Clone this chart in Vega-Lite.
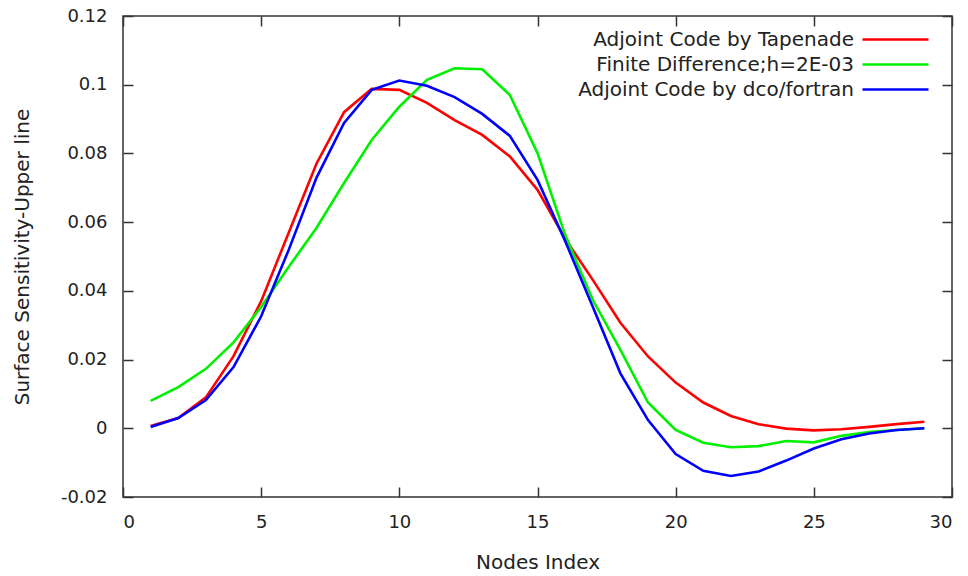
{
  "$schema": "https://vega.github.io/schema/vega-lite/v6.json",
  "width": 829,
  "height": 481,
  "autosize": {"type": "none"},
  "padding": {"left": 123, "top": 16, "right": 16, "bottom": 79},
  "background": "white",
  "config": {
    "font": "DejaVu Sans",
    "view": {"stroke": "#333333", "strokeWidth": 1.5},
    "axis": {
      "domain": false,
      "grid": false,
      "tickColor": "#333333",
      "tickWidth": 1.5,
      "tickSize": -10,
      "labelFont": "DejaVu Sans",
      "labelFontSize": 18,
      "labelColor": "#222222",
      "titleFont": "DejaVu Sans",
      "titleFontSize": 20,
      "titleFontWeight": "normal",
      "titleColor": "#222222"
    },
    "legend": {
      "labelFont": "DejaVu Sans",
      "labelFontSize": 20,
      "labelColor": "#222222",
      "labelLimit": 400
    }
  },
  "data": {
    "values": [
      {"idx": 1, "series": "Adjoint Code by Tapenade", "value": 0.0007},
      {"idx": 2, "series": "Adjoint Code by Tapenade", "value": 0.003},
      {"idx": 3, "series": "Adjoint Code by Tapenade", "value": 0.009},
      {"idx": 4, "series": "Adjoint Code by Tapenade", "value": 0.021},
      {"idx": 5, "series": "Adjoint Code by Tapenade", "value": 0.037},
      {"idx": 6, "series": "Adjoint Code by Tapenade", "value": 0.057},
      {"idx": 7, "series": "Adjoint Code by Tapenade", "value": 0.077},
      {"idx": 8, "series": "Adjoint Code by Tapenade", "value": 0.092},
      {"idx": 9, "series": "Adjoint Code by Tapenade", "value": 0.0988},
      {"idx": 10, "series": "Adjoint Code by Tapenade", "value": 0.0985},
      {"idx": 11, "series": "Adjoint Code by Tapenade", "value": 0.0947},
      {"idx": 12, "series": "Adjoint Code by Tapenade", "value": 0.0897},
      {"idx": 13, "series": "Adjoint Code by Tapenade", "value": 0.0854},
      {"idx": 14, "series": "Adjoint Code by Tapenade", "value": 0.0791},
      {"idx": 15, "series": "Adjoint Code by Tapenade", "value": 0.0694},
      {"idx": 16, "series": "Adjoint Code by Tapenade", "value": 0.0552},
      {"idx": 17, "series": "Adjoint Code by Tapenade", "value": 0.0432},
      {"idx": 18, "series": "Adjoint Code by Tapenade", "value": 0.0307},
      {"idx": 19, "series": "Adjoint Code by Tapenade", "value": 0.0209},
      {"idx": 20, "series": "Adjoint Code by Tapenade", "value": 0.0133},
      {"idx": 21, "series": "Adjoint Code by Tapenade", "value": 0.0075},
      {"idx": 22, "series": "Adjoint Code by Tapenade", "value": 0.0036},
      {"idx": 23, "series": "Adjoint Code by Tapenade", "value": 0.0012},
      {"idx": 24, "series": "Adjoint Code by Tapenade", "value": -0.0001},
      {"idx": 25, "series": "Adjoint Code by Tapenade", "value": -0.0006},
      {"idx": 26, "series": "Adjoint Code by Tapenade", "value": -0.0003},
      {"idx": 27, "series": "Adjoint Code by Tapenade", "value": 0.0004},
      {"idx": 28, "series": "Adjoint Code by Tapenade", "value": 0.0012},
      {"idx": 29, "series": "Adjoint Code by Tapenade", "value": 0.0019},
      {"idx": 1, "series": "Finite Difference;h=2E-03", "value": 0.008},
      {"idx": 2, "series": "Finite Difference;h=2E-03", "value": 0.012},
      {"idx": 3, "series": "Finite Difference;h=2E-03", "value": 0.0173},
      {"idx": 4, "series": "Finite Difference;h=2E-03", "value": 0.025},
      {"idx": 5, "series": "Finite Difference;h=2E-03", "value": 0.0353},
      {"idx": 6, "series": "Finite Difference;h=2E-03", "value": 0.047},
      {"idx": 7, "series": "Finite Difference;h=2E-03", "value": 0.0583},
      {"idx": 8, "series": "Finite Difference;h=2E-03", "value": 0.0714},
      {"idx": 9, "series": "Finite Difference;h=2E-03", "value": 0.0839},
      {"idx": 10, "series": "Finite Difference;h=2E-03", "value": 0.0936},
      {"idx": 11, "series": "Finite Difference;h=2E-03", "value": 0.1014},
      {"idx": 12, "series": "Finite Difference;h=2E-03", "value": 0.1048},
      {"idx": 13, "series": "Finite Difference;h=2E-03", "value": 0.1045},
      {"idx": 14, "series": "Finite Difference;h=2E-03", "value": 0.097},
      {"idx": 15, "series": "Finite Difference;h=2E-03", "value": 0.0801},
      {"idx": 16, "series": "Finite Difference;h=2E-03", "value": 0.0563},
      {"idx": 17, "series": "Finite Difference;h=2E-03", "value": 0.0374},
      {"idx": 18, "series": "Finite Difference;h=2E-03", "value": 0.0228},
      {"idx": 19, "series": "Finite Difference;h=2E-03", "value": 0.0075},
      {"idx": 20, "series": "Finite Difference;h=2E-03", "value": -0.0005},
      {"idx": 21, "series": "Finite Difference;h=2E-03", "value": -0.0042},
      {"idx": 22, "series": "Finite Difference;h=2E-03", "value": -0.0055},
      {"idx": 23, "series": "Finite Difference;h=2E-03", "value": -0.0052},
      {"idx": 24, "series": "Finite Difference;h=2E-03", "value": -0.0037},
      {"idx": 25, "series": "Finite Difference;h=2E-03", "value": -0.0041},
      {"idx": 26, "series": "Finite Difference;h=2E-03", "value": -0.0022},
      {"idx": 27, "series": "Finite Difference;h=2E-03", "value": -0.0011},
      {"idx": 28, "series": "Finite Difference;h=2E-03", "value": -0.0005},
      {"idx": 29, "series": "Finite Difference;h=2E-03", "value": 0.0},
      {"idx": 1, "series": "Adjoint Code by dco/fortran", "value": 0.0004},
      {"idx": 2, "series": "Adjoint Code by dco/fortran", "value": 0.003},
      {"idx": 3, "series": "Adjoint Code by dco/fortran", "value": 0.0082},
      {"idx": 4, "series": "Adjoint Code by dco/fortran", "value": 0.0178},
      {"idx": 5, "series": "Adjoint Code by dco/fortran", "value": 0.0326},
      {"idx": 6, "series": "Adjoint Code by dco/fortran", "value": 0.052},
      {"idx": 7, "series": "Adjoint Code by dco/fortran", "value": 0.0729},
      {"idx": 8, "series": "Adjoint Code by dco/fortran", "value": 0.0889},
      {"idx": 9, "series": "Adjoint Code by dco/fortran", "value": 0.0985},
      {"idx": 10, "series": "Adjoint Code by dco/fortran", "value": 0.1012},
      {"idx": 11, "series": "Adjoint Code by dco/fortran", "value": 0.0997},
      {"idx": 12, "series": "Adjoint Code by dco/fortran", "value": 0.0964},
      {"idx": 13, "series": "Adjoint Code by dco/fortran", "value": 0.0915},
      {"idx": 14, "series": "Adjoint Code by dco/fortran", "value": 0.0851},
      {"idx": 15, "series": "Adjoint Code by dco/fortran", "value": 0.0723},
      {"idx": 16, "series": "Adjoint Code by dco/fortran", "value": 0.0545},
      {"idx": 17, "series": "Adjoint Code by dco/fortran", "value": 0.0354},
      {"idx": 18, "series": "Adjoint Code by dco/fortran", "value": 0.016},
      {"idx": 19, "series": "Adjoint Code by dco/fortran", "value": 0.0024},
      {"idx": 20, "series": "Adjoint Code by dco/fortran", "value": -0.0075},
      {"idx": 21, "series": "Adjoint Code by dco/fortran", "value": -0.0124},
      {"idx": 22, "series": "Adjoint Code by dco/fortran", "value": -0.0139},
      {"idx": 23, "series": "Adjoint Code by dco/fortran", "value": -0.0126},
      {"idx": 24, "series": "Adjoint Code by dco/fortran", "value": -0.0094},
      {"idx": 25, "series": "Adjoint Code by dco/fortran", "value": -0.0059},
      {"idx": 26, "series": "Adjoint Code by dco/fortran", "value": -0.0032},
      {"idx": 27, "series": "Adjoint Code by dco/fortran", "value": -0.0015},
      {"idx": 28, "series": "Adjoint Code by dco/fortran", "value": -0.0005},
      {"idx": 29, "series": "Adjoint Code by dco/fortran", "value": 0.0}
    ]
  },
  "layer": [
    {
      "mark": {"type": "line", "strokeWidth": 2.6},
      "encoding": {
        "x": {
          "field": "idx", "type": "quantitative",
          "scale": {"domain": [0, 30], "nice": false},
          "axis": {"orient": "bottom", "values": [0, 5, 10, 15, 20, 25, 30], "labelPadding": 26, "title": "Nodes Index", "titlePadding": 21}
        },
        "y": {
          "field": "value", "type": "quantitative",
          "scale": {"domain": [-0.02, 0.12], "nice": false, "zero": false},
          "axis": {
            "orient": "left",
            "values": [-0.02, 0, 0.02, 0.04, 0.06, 0.08, 0.1, 0.12],
            "labelExpr": "replace(format(datum.value, '.2~f'), '\u2212', '-')",
            "labelPadding": 26,
            "title": "Surface Sensitivity-Upper line",
            "titlePadding": 28
          }
        },
        "color": {
          "field": "series", "type": "nominal",
          "scale": {
            "domain": ["Adjoint Code by Tapenade", "Finite Difference;h=2E-03", "Adjoint Code by dco/fortran"],
            "range": ["#ff0000", "#00f000", "#0000ff"]
          },
          "legend": {
            "title": null,
            "orient": "none",
            "legendX": 760,
            "legendY": 11,
            "symbolType": "M-3,0H3",
            "symbolSize": 484,
            "symbolStrokeWidth": 2.6,
            "symbolFillColor": "transparent",
            "labelAlign": "right",
            "labelOffset": -54,
            "rowPadding": 2
          }
        }
      }
    },
    {
      "mark": {"type": "line", "opacity": 0},
      "encoding": {
        "x": {
          "field": "idx", "type": "quantitative",
          "scale": {"domain": [0, 30], "nice": false},
          "axis": {"orient": "top", "values": [0, 5, 10, 15, 20, 25, 30], "labels": false, "title": null}
        },
        "y": {
          "field": "value", "type": "quantitative",
          "scale": {"domain": [-0.02, 0.12], "nice": false, "zero": false},
          "axis": {"orient": "right", "values": [-0.02, 0, 0.02, 0.04, 0.06, 0.08, 0.1, 0.12], "labels": false, "title": null}
        }
      }
    }
  ],
  "resolve": {"axis": {"x": "independent", "y": "independent"}}
}
